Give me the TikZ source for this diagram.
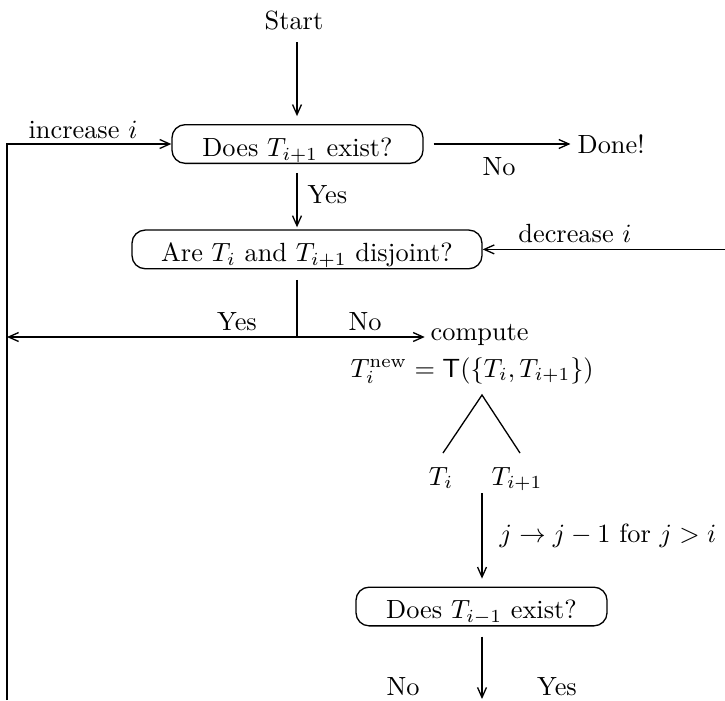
\documentclass[tikz,border=0pt]{standalone}
\usetikzlibrary{arrows.meta,calc}
\begin{document}
\begin{tikzpicture}[x=0.38pt,y=-0.38pt, line width=0.5pt,
  >={Straight Barb[length=3.8pt,width=3.4pt]},
  flowbox/.style={draw, rounded corners=5pt, inner xsep=0pt, inner ysep=0pt,
    text height=12pt, text depth=2.7pt},
  lbl/.style={inner sep=0pt}]
\useasboundingbox (0,0) rectangle (725,700);
% nodes
\node[lbl, anchor=base] (start) at (294,29) {Start};
\node[flowbox, minimum width=95.4pt] (b1) at (297.5,144) {Does $T_{i+1}$ exist?\hspace{3pt}};
\node[lbl, anchor=base] (inc) at (83,138) {increase $i$};
\node[lbl, anchor=base west] (done) at (577,153) {Done!};
\node[lbl, anchor=base] (no1) at (499,175) {No};
\node[lbl, anchor=base west] (yes1) at (307,203) {Yes};
\node[flowbox, minimum width=133pt] (b2) at (307,249.4) {Are $T_i$ and $T_{i+1}$ disjoint?};
\node[lbl, anchor=base] (dec) at (575,242) {decrease $i$};
\node[lbl, anchor=base] (yes2) at (237,330) {Yes};
\node[lbl, anchor=base] (no2) at (365,330) {No};
\node[lbl, anchor=base west] (comp) at (430,340) {compute};
\node[lbl, anchor=base west] (form) at (350,377) {$T_i^{\mathrm{new}} = \mathsf{T}(\{T_i,T_{i+1}\})$};
\node[lbl, anchor=base] (ti) at (441,485) {$T_i$};
\node[lbl, anchor=base] (ti1) at (517,485) {$T_{i+1}$};
\node[lbl, anchor=base west] (jlab) at (499,542) {$j\to j-1$ for $j>i$};
\node[flowbox, minimum width=95.4pt] (b3) at (481.5,606.5) {Does $T_{i-1}$ exist?};
\node[lbl, anchor=base] (no3) at (403,695) {No};
\node[lbl, anchor=base] (yes3) at (557,695) {Yes};
% coordinates
\coordinate (sa) at (297,42);
\coordinate (bl) at (7,700);
\coordinate (rr) at (725,249.4);
\coordinate (sp) at (297,337);
\coordinate (apex) at (482,395);
\coordinate (lleg) at (443,453);
\coordinate (rleg) at (520,453);
\coordinate (ar) at (482,493);
\coordinate (bot) at (482,699);
% connectors
\draw[->, shorten >=3pt] (sa) -- (b1.north -| sa);
\draw[->] (bl) |- (b1.west);
\draw[->] ([xshift=3.8pt]b1.east) -- ([xshift=-2.5pt]done.west |- b1.east);
\draw[->, shorten >=0.8pt] ([yshift=-3.4pt]b1.south -| sa) -- (b2.north -| sa);
\draw[->] (rr) -- (b2.east);
\draw ([yshift=-4pt]b2.south -| sp) -- (sp);
\draw[->] (sp) -- (sp -| bl);
\draw[->] (sp) -- ([xshift=-2pt]sp -| comp.west);
\draw (lleg) -- (apex) -- (rleg);
\draw[->, shorten >=3pt] (ar) -- (b3.north -| ar);
\draw[->] ([yshift=-3.8pt]b3.south -| ar) -- (bot);
\end{tikzpicture}
\end{document}
